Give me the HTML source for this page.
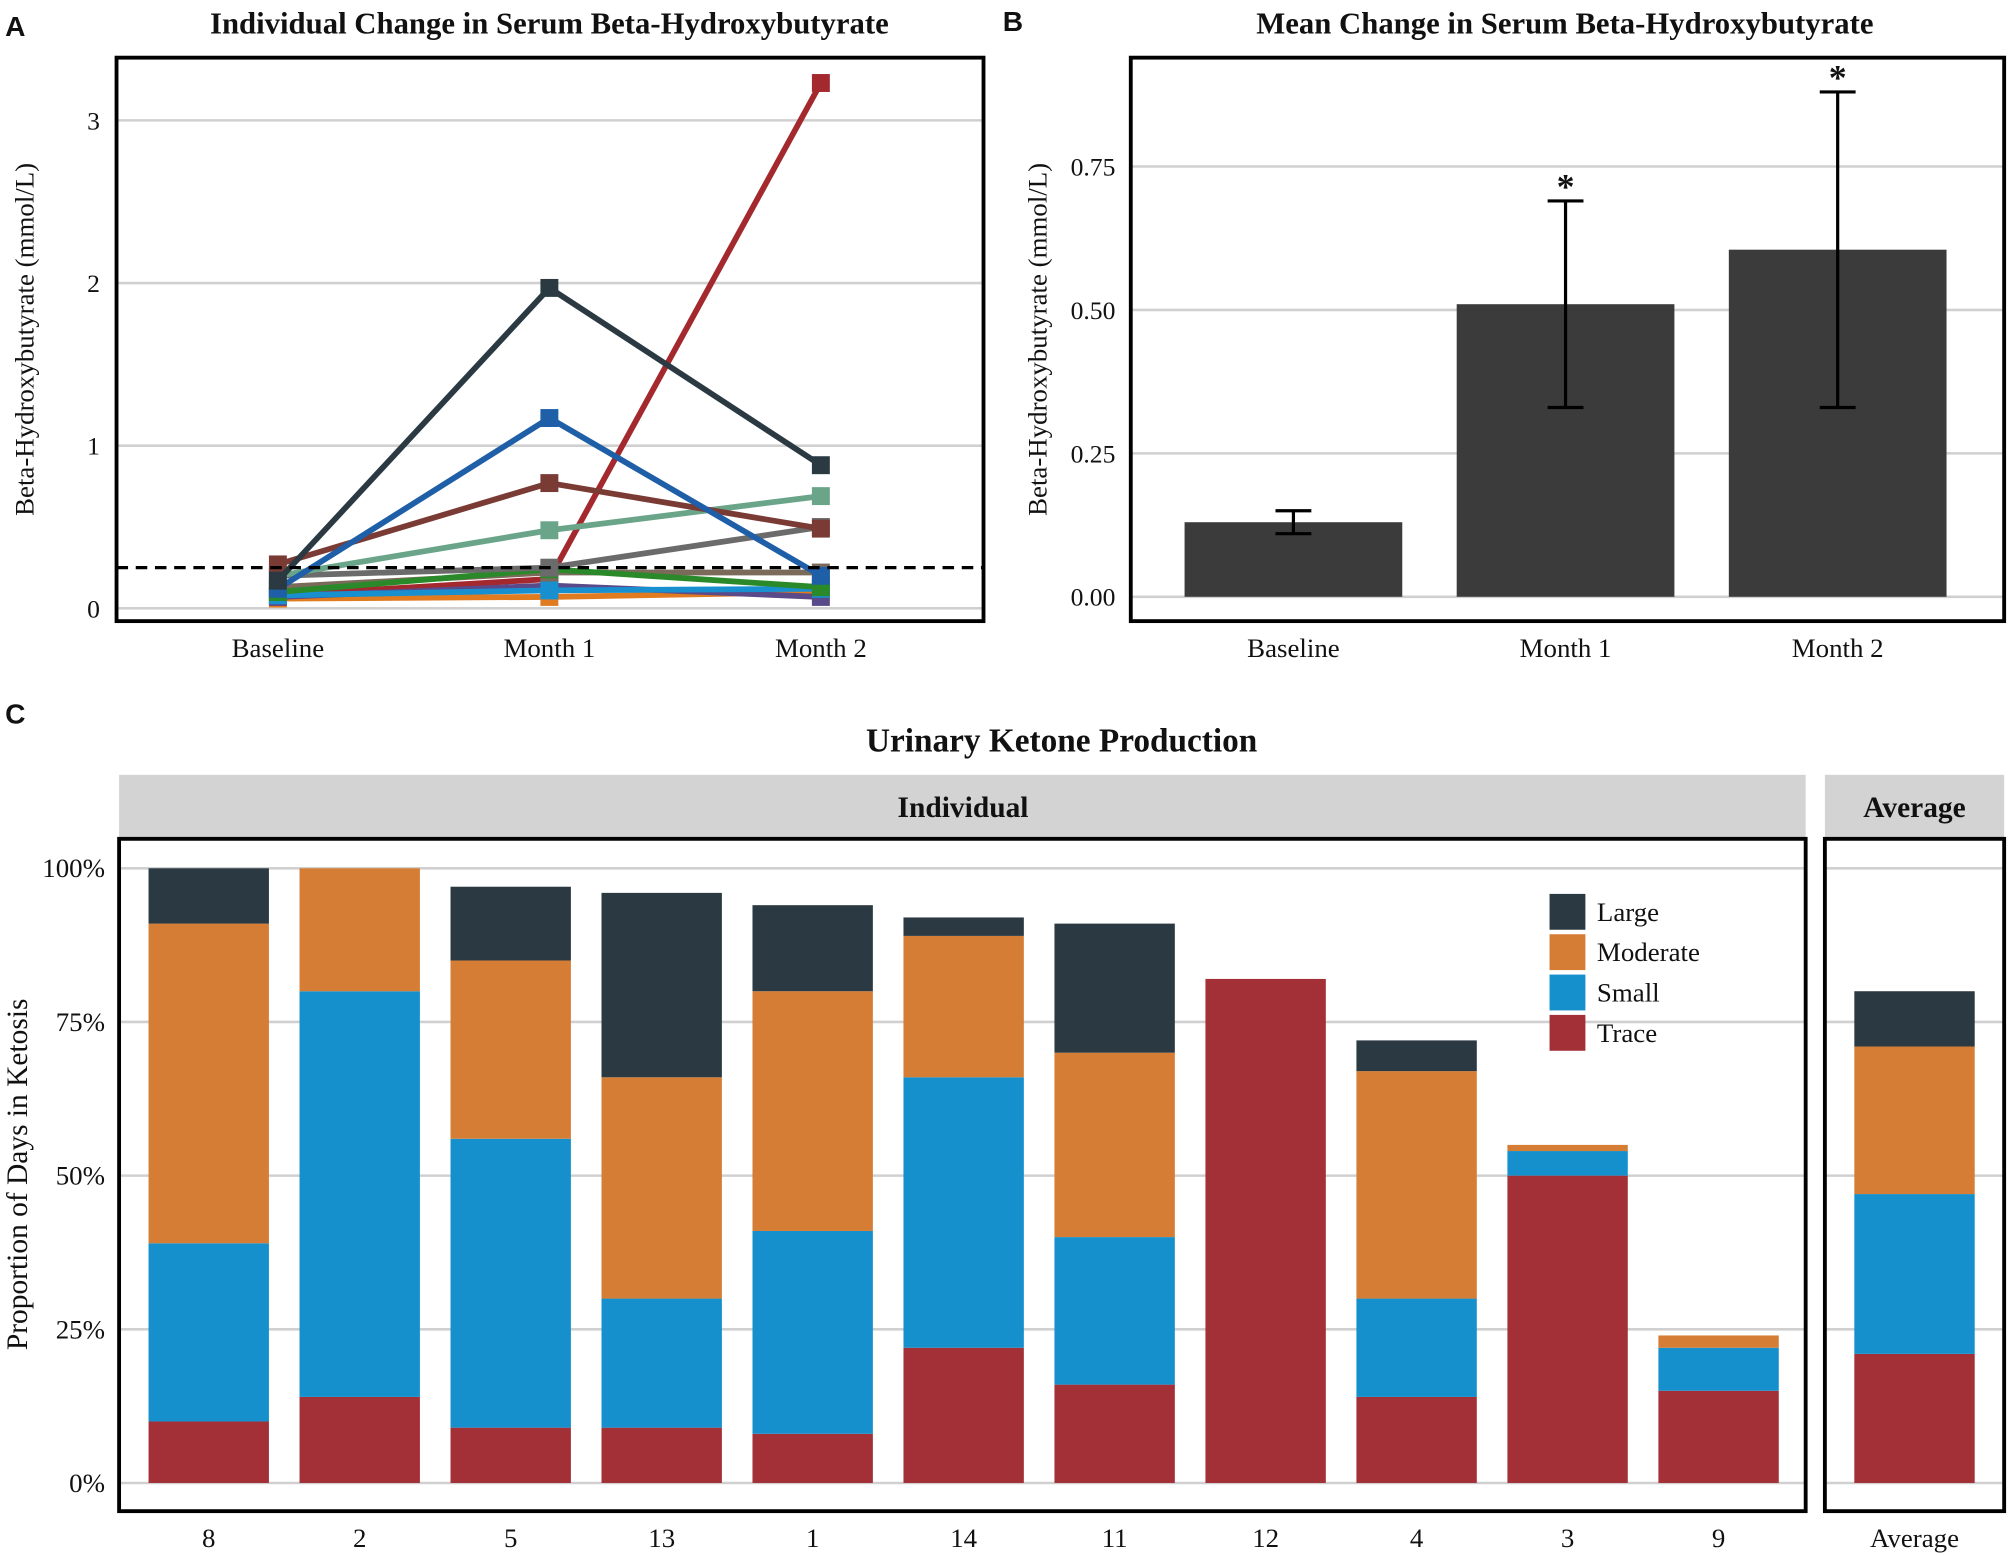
<!DOCTYPE html>
<html><head><meta charset="utf-8"><style>
html,body{margin:0;padding:0;background:#fff}
svg{display:block}
text{font-family:"Liberation Serif",serif;fill:#111}
text.sans{font-family:"Liberation Sans",sans-serif}
</style></head><body>
<svg id="fig" width="2008" height="1556" viewBox="0 0 1568 1215" xmlns="http://www.w3.org/2000/svg"></svg>
<script>
const aTimes=["Baseline","Month 1","Month 2"];
const aColors=["#2b3a42","#1f5fa8","#a3292f","#7a3b35","#6aa58a","#6b6b6b","#2a8a2a","#7a6a5a","#1890d0","#5a4a8a","#e07b20"];
const s1=[0.17,1.97,0.88];
const s2=[0.12,1.17,0.20];
const s3=[0.08,0.18,3.23];
const s4=[0.27,0.77,0.49];
const s5=[0.20,0.48,0.69];
const s6=[0.20,0.25,0.50];
const s7=[0.10,0.24,0.13];
const s8=[0.13,0.22,0.22];
const s9=[0.08,0.11,0.12];
const s10=[0.07,0.14,0.07];
const s11=[0.06,0.07,0.10];
const aSeries=[s3,s11,s10,s9,s8,s7,s6,s5,s4,s2,s1];
const aSeriesColors=[aColors[2],aColors[10],aColors[9],aColors[8],aColors[7],aColors[6],aColors[5],aColors[4],aColors[3],aColors[1],aColors[0]];
const aTicks=[0,1,2,3];
const threshold=0.25;
const bMeans=[0.13,0.51,0.605];
const bLow=[0.11,0.33,0.33];
const bHigh=[0.15,0.69,0.88];
const bSig=[false,true,true];
const bTicks=[0,0.25,0.5,0.75];
const bTickLabels=["0.00","0.25","0.50","0.75"];
const cIds=["8","2","5","13","1","14","11","12","4","3","9"];
const cTrace=[10,14,9,9,8,22,16,82,14,50,15];
const cSmall=[29,66,47,21,33,44,24,0,16,4,7];
const cModerate=[52,20,29,36,39,23,30,0,37,1,2];
const cLarge=[9,0,12,30,14,3,21,0,5,0,0];
const avgVals=[21,26,24,9];
const cTicks=[0,25,50,75,100];
const cLevels=["Trace","Small","Moderate","Large"];
const cColors=["#a33037","#1590cc","#d67d35","#2b3a42"];

const NS="http://www.w3.org/2000/svg";
const svg=document.getElementById('fig');
function mk(tag,attrs,parent,txt){const e=document.createElementNS(NS,tag);for(const k in attrs)e.setAttribute(k,attrs[k]);if(txt!==undefined)e.textContent=txt;(parent||svg).appendChild(e);return e;}

// ---------- Panel A ----------
const ax=i=>217+i*212, ay=v=>475-v*127;
let g=mk('g',{});


let t=mk('text',{x:4,y:28,'font-size':22,'font-weight':'bold','class':'sans'},g,'A');

t=mk('text',{x:429,y:26,'font-size':24,'font-weight':'bold','text-anchor':'middle'},g,'Individual Change in Serum Beta-Hydroxybutyrate');

aTicks.forEach(v=>{
 let l=mk('line',{x1:91,x2:768,y1:ay(v),y2:ay(v),stroke:'#d0d0d0','stroke-width':2},g);
 
 let tt=mk('text',{x:78,y:ay(v)+7,'font-size':20,'text-anchor':'end'},g,String(v));
 
});
aTimes.forEach((n,i)=>{
 let tt=mk('text',{x:ax(i),y:513,'font-size':21,'text-anchor':'middle'},g,n);
 
});
t=mk('text',{x:0,y:0,'font-size':21,'text-anchor':'middle',transform:'translate(26,265) rotate(-90)'},g,'Beta-Hydroxybutyrate (mmol/L)');

aSeries.forEach((s,k)=>{
 const c=aSeriesColors[k];
 let p=mk('polyline',{points:s.map((v,i)=>ax(i)+','+ay(v)).join(' '),fill:'none',stroke:c,'stroke-width':4.5},g);
 
 s.forEach((v,i)=>{
  let r=mk('rect',{x:ax(i)-7,y:ay(v)-7,width:14,height:14,fill:c},g);
  
 });
});
let dl=mk('line',{x1:91,x2:768,y1:ay(threshold),y2:ay(threshold),stroke:'#000','stroke-width':2.5,'stroke-dasharray':'9 6'},g);

let bx=mk('rect',{x:91,y:45,width:677,height:440,fill:'none',stroke:'#000','stroke-width':3},g);


// ---------- Panel B ----------
const bxp=i=>1010+i*212.5, by=v=>466-v*448;
g=mk('g',{});


t=mk('text',{x:783,y:24,'font-size':22,'font-weight':'bold','class':'sans'},g,'B');

t=mk('text',{x:1222,y:26,'font-size':24,'font-weight':'bold','text-anchor':'middle'},g,'Mean Change in Serum Beta-Hydroxybutyrate');

bTicks.forEach((v,i)=>{
 let l=mk('line',{x1:883,x2:1565,y1:by(v),y2:by(v),stroke:'#d0d0d0','stroke-width':2},g);
 
 let tt=mk('text',{x:871,y:by(v)+7,'font-size':20,'text-anchor':'end'},g,bTickLabels[i]);
 
});
t=mk('text',{x:0,y:0,'font-size':21,'text-anchor':'middle',transform:'translate(817,265) rotate(-90)'},g,'Beta-Hydroxybutyrate (mmol/L)');

bMeans.forEach((m,i)=>{
 const cx=bxp(i);
 let r=mk('rect',{x:cx-85,y:by(m),width:170,height:by(0)-by(m),fill:'#3b3b3b'},g);
 
 let e=mk('path',{d:`M${cx-14},${by(bHigh[i])}H${cx+14}M${cx},${by(bHigh[i])}V${by(bLow[i])}M${cx-14},${by(bLow[i])}H${cx+14}`,stroke:'#000','stroke-width':2.5,fill:'none'},g);
 
 if(bSig[i]){let s=mk('text',{x:cx,y:by(bHigh[i])-2,'font-size':28,'text-anchor':'middle','font-weight':'bold'},g,'*');
  }
 let tt=mk('text',{x:cx,y:513,'font-size':21,'text-anchor':'middle'},g,aTimes[i]);
 
});
bx=mk('rect',{x:883,y:45,width:682,height:440,fill:'none',stroke:'#000','stroke-width':3},g);


// ---------- Panel C ----------
const cx=i=>163+i*117.9, cy=v=>1158-v*4.8;
g=mk('g',{});


t=mk('text',{x:4,y:565,'font-size':22,'font-weight':'bold','class':'sans'},g,'C');

t=mk('text',{x:829,y:587,'font-size':26,'font-weight':'bold','text-anchor':'middle'},g,'Urinary Ketone Production');

let st=mk('rect',{x:93,y:605,width:1317,height:50,fill:'#d3d3d3'},g);

t=mk('text',{x:752,y:638,'font-size':23,'font-weight':'bold','text-anchor':'middle'},g,'Individual');

st=mk('rect',{x:1425,y:605,width:140,height:50,fill:'#d3d3d3'},g);

t=mk('text',{x:1495,y:638,'font-size':23,'font-weight':'bold','text-anchor':'middle'},g,'Average');

cTicks.forEach(v=>{
 let l=mk('line',{x1:93,x2:1410,y1:cy(v),y2:cy(v),stroke:'#d0d0d0','stroke-width':2},g);
 
 l=mk('line',{x1:1425,x2:1565,y1:cy(v),y2:cy(v),stroke:'#d0d0d0','stroke-width':2},g);
 
 let tt=mk('text',{x:82,y:cy(v)+7,'font-size':21,'text-anchor':'end'},g,v+'%');
 
});
t=mk('text',{x:0,y:0,'font-size':23,'text-anchor':'middle',transform:'translate(21,917) rotate(-90)'},g,'Proportion of Days in Ketosis');

function stack(center,vals,name){
 let base=0;
 vals.forEach((v,k)=>{
  if(v>0){let r=mk('rect',{x:center-47,y:cy(base+v),width:94,height:cy(base)-cy(base+v),fill:cColors[k]},g);
   }
  base+=v;
 });
}
cIds.forEach((id,i)=>{
 stack(cx(i),[cTrace[i],cSmall[i],cModerate[i],cLarge[i]],'bar-'+id);
 let tt=mk('text',{x:cx(i),y:1208,'font-size':21,'text-anchor':'middle'},g,id);
 
});
stack(1495,avgVals,'bar-average');
t=mk('text',{x:1495,y:1208,'font-size':21,'text-anchor':'middle'},g,'Average');

bx=mk('rect',{x:93,y:655,width:1317,height:525,fill:'none',stroke:'#000','stroke-width':3},g);

bx=mk('rect',{x:1425,y:655,width:140,height:525,fill:'none',stroke:'#000','stroke-width':3},g);

const lg=mk('g',{},g);


for(let k=3;k>=0;k--){
 const yy=698+(3-k)*31.5;
 let r=mk('rect',{x:1210,y:yy,width:28,height:28,fill:cColors[k]},lg);
 
 let tt=mk('text',{x:1247,y:yy+21,'font-size':21},lg,cLevels[k]);
 
}
</script>
</body></html>
